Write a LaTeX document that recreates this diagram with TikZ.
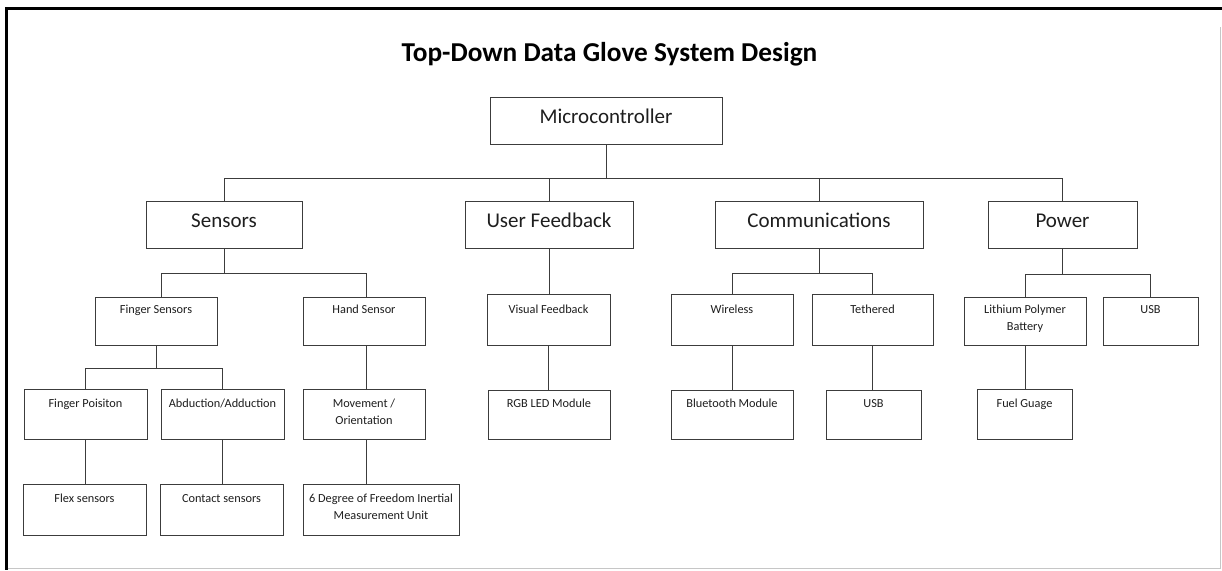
\documentclass[tikz,border=0pt]{standalone}
\usepackage{fontspec}
\setmainfont{Carlito}
\definecolor{boxline}{HTML}{3C3C3C}
\definecolor{txt}{HTML}{1E1E1E}
% box from its left, top, right and bottom edges (y grows downwards)
\newcommand\gbox[5]{%
  \node[box, minimum width={#4-#2}, minimum height={#5-#3}] (#1) at ({(#2+#4)/2},{(#3+#5)/2}) {};}
\begin{document}
\begin{tikzpicture}[x=1pt,y=-1pt,
  box/.style={draw=boxline, line width=1pt, inner sep=0pt, fill=white},
  lnk/.style={draw=boxline, line width=1pt},
  small/.style={font=\fontsize{12.3}{17.5}\selectfont, text=txt, inner sep=0pt, align=center, anchor=base},
  twoline/.style={small, yshift=-17.5pt},
  big/.style={font=\fontsize{21}{25}\selectfont, text=txt, inner sep=0pt, anchor=base}]
\useasboundingbox (0,0) rectangle (1222,570);
\fill[white] (0,0) rectangle (1222,570);
% frame
\fill[black] (4.5,7) rectangle (1222,10.3);
\fill[black] (4.5,7) rectangle (8,570);
\draw[gray!45, line width=1pt] (1220.5,27) -- (1220.5,568.5) -- (8,568.5);

% title
\node[font=\bfseries\fontsize{27.3}{30}\selectfont, anchor=base, inner sep=0pt] (title) at (609.5,61) {Top-Down Data Glove System Design};

% bus levels and text baselines
\coordinate (b1) at (0,178);
\coordinate (b2) at (0,273);
\coordinate (b3) at (0,368);
\coordinate (b4) at (0,273);
\coordinate (b5) at (0,274);
\coordinate (tb1) at (0,123.3);
\coordinate (tb2) at (0,227.3);
\coordinate (tb3) at (0,313);
\coordinate (tb4) at (0,407);
\coordinate (tb5) at (0,502.3);

% boxes
\gbox{mc}{490}{97}{722}{144}
\gbox{sens}{146}{201}{302}{248}
\gbox{uf}{465}{201}{633}{248}
\gbox{com}{715}{201}{923}{248}
\gbox{pow}{988}{201}{1137}{248}
\gbox{fs}{95}{297}{217}{345}
\gbox{hs}{303}{297}{425}{345}
\gbox{vf}{487}{294}{610}{345}
\gbox{wl}{671}{294}{793}{345}
\gbox{te}{812}{294}{933}{345}
\gbox{li}{964}{297}{1086}{345}
\gbox{usbp}{1103}{297}{1198}{345}
\gbox{fp}{24}{389}{147}{439}
\gbox{ab}{161}{389}{284}{439}
\gbox{mo}{303}{389}{425}{439}
\gbox{rgb}{488}{390}{610}{439}
\gbox{bt}{671}{390}{793}{439}
\gbox{usbc}{826}{390}{921}{439}
\gbox{fg}{977}{389}{1072}{439}
\gbox{fx}{23}{484}{146}{535}
\gbox{ct}{160}{484}{283}{535}
\gbox{dof}{303}{484}{459}{535}

% texts
\node[big] at (mc.center |- tb1) {Microcontroller};
\node[big] at (sens.center |- tb2) {Sensors};
\node[big] at (uf.center |- tb2) {User Feedback};
\node[big] at (com.center |- tb2) {Communications};
\node[big] at (pow.center |- tb2) {Power};
\node[small] at (fs.center |- tb3) {Finger Sensors};
\node[small] at (hs.center |- tb3) {Hand Sensor};
\node[small] at (vf.center |- tb3) {Visual Feedback};
\node[small] at (wl.center |- tb3) {Wireless};
\node[small] at (te.center |- tb3) {Tethered};
\node[twoline] at (li.center |- tb3) {Lithium Polymer\\Battery};
\node[small] at (usbp.center |- tb3) {USB};
\node[small] at (fp.center |- tb4) {Finger Poisiton};
\node[small] at (ab.center |- tb4) {Abduction/Adduction};
\node[twoline] at (mo.center |- tb4) {Movement /\\Orientation};
\node[small] at (rgb.center |- tb4) {RGB LED Module};
\node[small] at (bt.center |- tb4) {Bluetooth Module};
\node[small] at (usbc.center |- tb4) {USB};
\node[small] at (fg.center |- tb4) {Fuel Guage};
\node[small] at (fx.center |- tb5) {Flex sensors};
\node[small] at (ct.center |- tb5) {Contact sensors};
\node[twoline] at (dof.center |- tb5) {6 Degree of Freedom Inertial\\Measurement Unit};

% connectors
\draw[lnk] (mc.south) -- (mc.south |- b1);
\draw[lnk] (sens.north) -- (sens.north |- b1) -- (pow.north |- b1) -- (pow.north);
\draw[lnk] (uf.north) -- (uf.north |- b1);
\draw[lnk] (com.north) -- (com.north |- b1);

\coordinate (fsT) at ([xshift=5pt]fs.north);
\coordinate (hsT) at ([xshift=2.5pt]hs.north);
\draw[lnk] (sens.south) -- (sens.south |- b2);
\draw[lnk] (fsT) -- (fsT |- b2) -- (hsT |- b2) -- (hsT);
\draw[lnk] (fs.south) -- (fs.south |- b3);
\draw[lnk] (fp.north) -- (fp.north |- b3) -- (ab.north |- b3) -- (ab.north);
\draw[lnk] (fp.south) -- (fp.south |- fx.north);
\draw[lnk] (ab.south) -- (ab.south |- ct.north);
\coordinate (hsB) at ([xshift=2.5pt]hs.south);
\draw[lnk] (hsB) -- (hsB |- mo.north);
\coordinate (moB) at ([xshift=2.5pt]mo.south);
\draw[lnk] (moB) -- (moB |- dof.north);

\draw[lnk] (uf.south) -- (uf.south |- vf.north);
\draw[lnk] (vf.south) -- (vf.south |- rgb.north);

\draw[lnk] (com.south) -- (com.south |- b4);
\draw[lnk] (wl.north) -- (wl.north |- b4) -- (te.north |- b4) -- (te.north);
\draw[lnk] (wl.south) -- (wl.south |- bt.north);
\draw[lnk] (te.south) -- (te.south |- usbc.north);

\draw[lnk] (pow.south) -- (pow.south |- b5);
\draw[lnk] (li.north) -- (li.north |- b5) -- (usbp.north |- b5) -- (usbp.north);
\draw[lnk] (li.south) -- (li.south |- fg.north);
\end{tikzpicture}
\end{document}
